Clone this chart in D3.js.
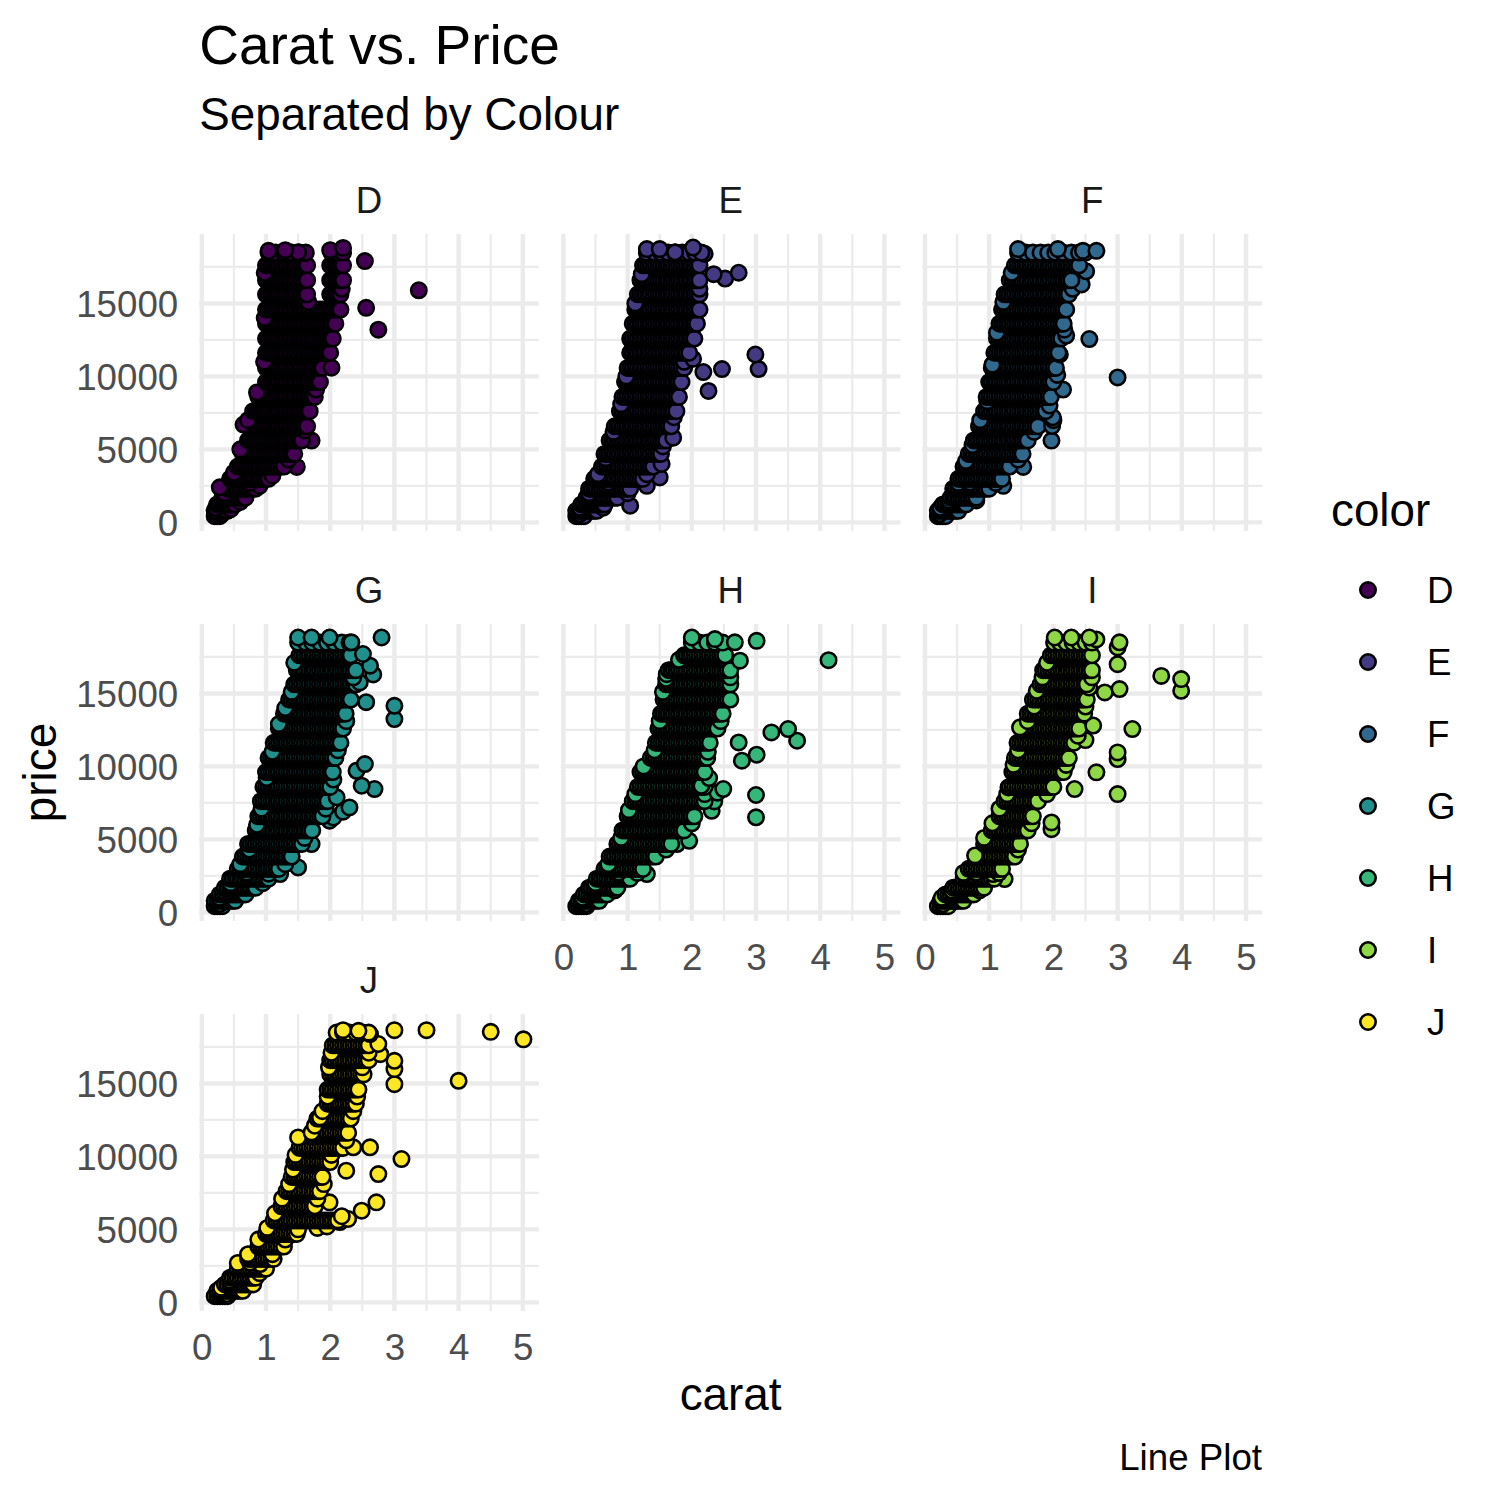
<!DOCTYPE html>
<html><head><meta charset="utf-8">
<script src="https://cdn.jsdelivr.net/npm/d3@7"></script>
<style>body{margin:0;background:#fff;} text{font-family:"Liberation Sans",Arial,Helvetica,sans-serif;}</style>
</head><body><svg id="chart" width="1500" height="1500"></svg>
<script>
// ---------- DATA ----------
const colorLevels = ["D","E","F","G","H","I","J"];
const fillColors = ["#440154","#443A83","#31688E","#21908C","#35B779","#8FD744","#FDE725"];
const xTicks = [0,1,2,3,4,5];
const xMinorTicks = [0.5,1.5,2.5,3.5,4.5];
const yTicks = [0,5000,10000,15000];
const yMinorTicks = [2500,7500,12500,17500];
const chartTitle = "Carat vs. Price";
const chartSubtitle = "Separated by Colour";
const chartCaption = "Line Plot";

// dense cloud: [price, [carats at that price]]
const rowsD = [
[420,[0.2,0.24,0.28]],
[790,[0.2,0.24,0.28,0.32,0.36,0.4]],
[1230,[0.24,0.28,0.32,0.36,0.4,0.44,0.48,0.52]],
[1690,[0.32,0.36,0.4,0.44,0.48,0.52,0.56,0.6,0.64,0.68]],
[2310,[0.4,0.44,0.48,0.52,0.56,0.6,0.64,0.68,0.72,0.76,0.8,0.84]],
[2980,[0.44,0.48,0.52,0.56,0.6,0.64,0.68,0.72,0.76,0.8,0.84,0.88,0.92,0.96,1.0,1.04]],
[3820,[0.56,0.6,0.64,0.68,0.72,0.76,0.8,0.84,0.88,0.92,0.96,1.0,1.04,1.08,1.12,1.16,1.2,1.24,1.28]],
[4690,[0.64,0.68,0.72,0.76,0.8,0.84,0.88,0.92,0.96,1.0,1.04,1.08,1.12,1.16,1.2,1.24,1.28,1.32,1.36,1.4,1.44]],
[5610,[0.72,0.76,0.8,0.84,0.88,0.92,0.96,1.0,1.04,1.08,1.12,1.16,1.2,1.24,1.28,1.32,1.36,1.4,1.44,1.48,1.52,1.56]],
[6580,[0.76,0.8,0.84,0.88,0.92,0.96,1.0,1.04,1.08,1.12,1.16,1.2,1.24,1.28,1.32,1.36,1.4,1.44,1.48,1.52,1.56,1.6,1.64]],
[7620,[0.8,0.84,0.88,0.92,0.96,1.0,1.04,1.08,1.12,1.16,1.2,1.24,1.28,1.32,1.36,1.4,1.44,1.48,1.52,1.56,1.6,1.64,1.68]],
[8590,[0.88,0.92,0.96,1.0,1.04,1.08,1.12,1.16,1.2,1.24,1.28,1.32,1.36,1.4,1.44,1.48,1.52,1.56,1.6,1.64,1.68,1.72,1.76]],
[9610,[1.0,1.04,1.08,1.12,1.16,1.2,1.24,1.28,1.32,1.36,1.4,1.44,1.48,1.52,1.56,1.6,1.64,1.68,1.72,1.76,1.8,1.84]],
[10580,[1.0,1.04,1.08,1.12,1.16,1.2,1.24,1.28,1.32,1.36,1.4,1.44,1.48,1.52,1.56,1.6,1.64,1.68,1.72,1.76,1.8,1.84,1.88]],
[11620,[1.0,1.04,1.08,1.12,1.16,1.2,1.24,1.28,1.32,1.36,1.4,1.44,1.48,1.52,1.56,1.6,1.64,1.68,1.72,1.76,1.8,1.84,1.88,1.92,1.96,2.0]],
[12590,[1.0,1.04,1.08,1.12,1.16,1.2,1.24,1.28,1.32,1.36,1.4,1.44,1.48,1.52,1.56,1.6,1.64,1.68,1.72,1.76,1.8,1.84,1.88,1.92,1.96,2.0,2.04]],
[13610,[1.0,1.04,1.08,1.12,1.16,1.2,1.24,1.28,1.32,1.36,1.4,1.44,1.48,1.52,1.56,1.6,1.64,1.68,1.72,1.76,1.8,1.84,1.88,1.92,1.96,2.0,2.04,2.08]],
[14580,[1.0,1.04,1.08,1.12,1.16,1.2,1.24,1.28,1.32,1.36,1.4,1.44,1.48,1.52,1.56,1.6,1.64,1.68,1.72,1.76,1.8,1.84,1.88,1.92,1.96,2.0,2.04,2.08,2.12,2.16]],
[15620,[1.0,1.04,1.08,1.12,1.16,1.2,1.24,1.28,1.32,1.36,1.4,1.44,1.48,1.52,1.56,1.6,1.64,2.0,2.04,2.08,2.12,2.16]],
[16590,[1.0,1.04,1.08,1.12,1.16,1.2,1.24,1.28,1.32,1.36,1.4,1.44,1.48,1.52,1.56,1.6,1.64,2.0,2.04,2.08,2.12,2.16,2.2]],
[17610,[1.0,1.04,1.08,1.12,1.16,1.2,1.24,1.28,1.32,1.36,1.4,1.44,1.48,1.52,1.56,1.6,1.64,2.0,2.04,2.08,2.12,2.16,2.2]],
[18480,[1.04,1.15,1.28,1.4,1.52,1.62,2.02,2.12,2.2]]
];
// single visible points (edges and outliers): [carat, price]
const edgesD = [[1.04,18600],[1.6,18450],[2.0,18650],[2.2,18800],[1.3,18650],[1.5,18500],[2.54,17900],[3.38,15900],[2.56,14700],[2.75,13200],[2.02,10600],[1.71,5600],[1.48,3800],[0.65,6700],[0.75,2700],[0.31,570],[0.28,2400],
[0.98,17100],[0.98,14000],[0.97,11000],[0.86,8900],[0.72,7000],[0.6,5000],[0.5,3400],[0.36,2000],[0.22,1000],
[1.78,9100],[1.6,6300],[1.35,4300],[1.1,3200],[0.9,2500],[0.6,1400],[0.45,900],[2.18,16000],[1.66,15100]];

const rowsE = [
[420,[0.2,0.24,0.28,0.32]],
[790,[0.2,0.24,0.28,0.32,0.36,0.4,0.44,0.48,0.52]],
[1230,[0.28,0.32,0.36,0.4,0.44,0.48,0.52,0.56,0.6,0.64]],
[1690,[0.36,0.4,0.44,0.48,0.52,0.56,0.6,0.64,0.68,0.72,0.76,0.8,0.84]],
[2310,[0.4,0.44,0.48,0.52,0.56,0.6,0.64,0.68,0.72,0.76,0.8,0.84,0.88,0.92,0.96,1.0,1.04]],
[2980,[0.48,0.52,0.56,0.6,0.64,0.68,0.72,0.76,0.8,0.84,0.88,0.92,0.96,1.0,1.04,1.08,1.12,1.16,1.2,1.24]],
[3820,[0.6,0.64,0.68,0.72,0.76,0.8,0.84,0.88,0.92,0.96,1.0,1.04,1.08,1.12,1.16,1.2,1.24,1.28,1.32,1.36,1.4]],
[4690,[0.64,0.68,0.72,0.76,0.8,0.84,0.88,0.92,0.96,1.0,1.04,1.08,1.12,1.16,1.2,1.24,1.28,1.32,1.36,1.4,1.44,1.48,1.52]],
[5610,[0.72,0.76,0.8,0.84,0.88,0.92,0.96,1.0,1.04,1.08,1.12,1.16,1.2,1.24,1.28,1.32,1.36,1.4,1.44,1.48,1.52,1.56,1.6]],
[6580,[0.8,0.84,0.88,0.92,0.96,1.0,1.04,1.08,1.12,1.16,1.2,1.24,1.28,1.32,1.36,1.4,1.44,1.48,1.52,1.56,1.6,1.64,1.68]],
[7620,[0.88,0.92,0.96,1.0,1.04,1.08,1.12,1.16,1.2,1.24,1.28,1.32,1.36,1.4,1.44,1.48,1.52,1.56,1.6,1.64,1.68,1.72,1.76]],
[8590,[0.92,0.96,1.0,1.04,1.08,1.12,1.16,1.2,1.24,1.28,1.32,1.36,1.4,1.44,1.48,1.52,1.56,1.6,1.64,1.68,1.72,1.76,1.8]],
[9610,[0.96,1.0,1.04,1.08,1.12,1.16,1.2,1.24,1.28,1.32,1.36,1.4,1.44,1.48,1.52,1.56,1.6,1.64,1.68,1.72,1.76,1.8,1.84]],
[10580,[1.0,1.04,1.08,1.12,1.16,1.2,1.24,1.28,1.32,1.36,1.4,1.44,1.48,1.52,1.56,1.6,1.64,1.68,1.72,1.76,1.8,1.84,1.88]],
[11620,[1.04,1.08,1.12,1.16,1.2,1.24,1.28,1.32,1.36,1.4,1.44,1.48,1.52,1.56,1.6,1.64,1.68,1.72,1.76,1.8,1.84,1.88,1.92,1.96]],
[12590,[1.04,1.08,1.12,1.16,1.2,1.24,1.28,1.32,1.36,1.4,1.44,1.48,1.52,1.56,1.6,1.64,1.68,1.72,1.76,1.8,1.84,1.88,1.92,1.96,2.0,2.04]],
[13610,[1.08,1.12,1.16,1.2,1.24,1.28,1.32,1.36,1.4,1.44,1.48,1.52,1.56,1.6,1.64,1.68,1.72,1.76,1.8,1.84,1.88,1.92,1.96,2.0,2.04,2.08]],
[14580,[1.12,1.16,1.2,1.24,1.28,1.32,1.36,1.4,1.44,1.48,1.52,1.56,1.6,1.64,1.68,1.72,1.76,1.8,1.84,1.88,1.92,1.96,2.0,2.04,2.08,2.12]],
[15620,[1.16,1.2,1.24,1.28,1.32,1.36,1.4,1.44,1.48,1.52,1.56,1.6,1.64,1.68,1.72,1.76,1.8,1.84,1.88,1.92,1.96,2.0,2.04,2.08,2.12]],
[16590,[1.2,1.24,1.28,1.32,1.36,1.4,1.44,1.48,1.52,1.56,1.6,1.64,1.68,1.72,1.76,1.8,1.84,1.88,1.92,1.96,2.0,2.04,2.08,2.12]],
[17610,[1.24,1.28,1.32,1.36,1.4,1.44,1.48,1.52,1.56,1.6,1.64,1.68,1.72,1.76,1.8,1.84,1.88,1.92,1.96,2.0,2.04,2.08,2.12]],
[18480,[1.3,1.42,1.52,1.63,1.74,1.85,1.96,2.05,2.15]]
];
const edgesE = [[1.3,18720],[1.5,18720],[1.74,18500],[2.02,18830],[2.2,18400],[2.34,17000],[2.52,16700],[2.73,17100],[2.99,11500],[3.04,10500],[2.47,10500],[2.18,10300],[2.26,9000],[2.02,11200],[1.71,5800],[1.53,4000],[1.5,3080],[1.3,2500],[1.04,1140],[0.7,2740],[0.25,570],
[1.22,17000],[1.12,15000],[1.05,12500],[0.98,10000],[0.9,8100],[0.78,6200],[0.66,4400],[0.54,3300],[0.4,2000],[0.26,1000],
[2.12,16000],[1.88,11000],[1.72,7200],[1.55,5200],[1.3,3300],[1.0,2000],[0.62,1000]];

const rowsF = [
[420,[0.2,0.24,0.28,0.32]],
[790,[0.2,0.24,0.28,0.32,0.36,0.4,0.44,0.48,0.52]],
[1230,[0.28,0.32,0.36,0.4,0.44,0.48,0.52,0.56,0.6,0.64]],
[1690,[0.4,0.44,0.48,0.52,0.56,0.6,0.64,0.68,0.72,0.76,0.8]],
[2310,[0.44,0.48,0.52,0.56,0.6,0.64,0.68,0.72,0.76,0.8,0.84,0.88,0.92,0.96,1.0]],
[2980,[0.52,0.56,0.6,0.64,0.68,0.72,0.76,0.8,0.84,0.88,0.92,0.96,1.0,1.04,1.08,1.12,1.16,1.2]],
[3820,[0.6,0.64,0.68,0.72,0.76,0.8,0.84,0.88,0.92,0.96,1.0,1.04,1.08,1.12,1.16,1.2,1.24,1.28,1.32]],
[4690,[0.68,0.72,0.76,0.8,0.84,0.88,0.92,0.96,1.0,1.04,1.08,1.12,1.16,1.2,1.24,1.28,1.32,1.36,1.4,1.44,1.48,1.52]],
[5610,[0.76,0.8,0.84,0.88,0.92,0.96,1.0,1.04,1.08,1.12,1.16,1.2,1.24,1.28,1.32,1.36,1.4,1.44,1.48,1.52,1.56,1.6]],
[6580,[0.84,0.88,0.92,0.96,1.0,1.04,1.08,1.12,1.16,1.2,1.24,1.28,1.32,1.36,1.4,1.44,1.48,1.52,1.56,1.6,1.64,1.68,1.72,1.76]],
[7620,[0.92,0.96,1.0,1.04,1.08,1.12,1.16,1.2,1.24,1.28,1.32,1.36,1.4,1.44,1.48,1.52,1.56,1.6,1.64,1.68,1.72,1.76,1.8,1.84,1.88]],
[8590,[0.96,1.0,1.04,1.08,1.12,1.16,1.2,1.24,1.28,1.32,1.36,1.4,1.44,1.48,1.52,1.56,1.6,1.64,1.68,1.72,1.76,1.8,1.84,1.88,1.92,1.96]],
[9610,[1.0,1.04,1.08,1.12,1.16,1.2,1.24,1.28,1.32,1.36,1.4,1.44,1.48,1.52,1.56,1.6,1.64,1.68,1.72,1.76,1.8,1.84,1.88,1.92,1.96,2.0]],
[10580,[1.04,1.08,1.12,1.16,1.2,1.24,1.28,1.32,1.36,1.4,1.44,1.48,1.52,1.56,1.6,1.64,1.68,1.72,1.76,1.8,1.84,1.88,1.92,1.96,2.0,2.04]],
[11620,[1.08,1.12,1.16,1.2,1.24,1.28,1.32,1.36,1.4,1.44,1.48,1.52,1.56,1.6,1.64,1.68,1.72,1.76,1.8,1.84,1.88,1.92,1.96,2.0,2.04,2.08]],
[12600,[1.12,1.16,1.2,1.24,1.28,1.32,1.36,1.4,1.44,1.48,1.52,1.56,1.6,1.64,1.68,1.72,1.76,1.8,1.84,1.88,1.92,1.96,2.0,2.04,2.08,2.12]],
[13610,[1.16,1.2,1.24,1.28,1.32,1.36,1.4,1.44,1.48,1.52,1.56,1.6,1.64,1.68,1.72,1.76,1.8,1.84,1.88,1.92,1.96,2.0,2.04,2.08,2.12,2.16]],
[14580,[1.2,1.24,1.28,1.32,1.36,1.4,1.44,1.48,1.52,1.56,1.6,1.64,1.68,1.72,1.76,1.8,1.84,1.88,1.92,1.96,2.0,2.04,2.08,2.12,2.16,2.2]],
[15620,[1.24,1.28,1.32,1.36,1.4,1.44,1.48,1.52,1.56,1.6,1.64,1.68,1.72,1.76,1.8,1.84,1.88,1.92,1.96,2.0,2.04,2.08,2.12,2.16,2.2,2.24]],
[16590,[1.32,1.36,1.4,1.44,1.48,1.52,1.56,1.6,1.64,1.68,1.72,1.76,1.8,1.84,1.88,1.92,1.96,2.0,2.04,2.08,2.12,2.16,2.2,2.24,2.28]],
[17610,[1.4,1.44,1.48,1.52,1.56,1.6,1.64,1.68,1.72,1.76,1.8,1.84,1.88,1.92,1.96,2.0,2.04,2.08,2.12,2.16,2.2,2.24,2.28,2.32,2.36,2.4]],
[18480,[1.45,1.57,1.68,1.8,1.92,2.03,2.15,2.28,2.4,2.5]]
];
const edgesF = [[1.45,18720],[2.07,18720],[2.46,18600],[2.67,18600],[2.51,17200],[2.44,16300],[2.56,12560],[3.0,9930],[2.15,9100],[1.99,7200],[2.0,7000],[1.98,6600],[1.97,5600],[1.53,3800],[1.22,2500],[0.7,2740],[0.23,570],[2.1,11500],[2.2,12800],
[1.35,17100],[1.22,15100],[1.12,13000],[1.05,10800],[0.97,8300],[0.86,7000],[0.74,5300],[0.64,4200],[0.52,2700],[0.38,1500],[0.24,1000],
[2.3,16000],[2.17,13200],[2.06,10100],[1.94,8000],[1.7,6200],[1.45,4300],[1.1,2700],[0.8,1500]];

const rowsG = [
[420,[0.2,0.24,0.28,0.32]],
[790,[0.2,0.24,0.28,0.32,0.36,0.4,0.44,0.48,0.52]],
[1230,[0.28,0.32,0.36,0.4,0.44,0.48,0.52,0.56,0.6,0.64,0.68]],
[1690,[0.36,0.4,0.44,0.48,0.52,0.56,0.6,0.64,0.68,0.72,0.76,0.8,0.84]],
[2310,[0.44,0.48,0.52,0.56,0.6,0.64,0.68,0.72,0.76,0.8,0.84,0.88,0.92,0.96,1.0,1.04]],
[2980,[0.56,0.6,0.64,0.68,0.72,0.76,0.8,0.84,0.88,0.92,0.96,1.0,1.04,1.08,1.12,1.16,1.2]],
[3820,[0.64,0.68,0.72,0.76,0.8,0.84,0.88,0.92,0.96,1.0,1.04,1.08,1.12,1.16,1.2,1.24,1.28,1.32,1.36,1.4]],
[4690,[0.72,0.76,0.8,0.84,0.88,0.92,0.96,1.0,1.04,1.08,1.12,1.16,1.2,1.24,1.28,1.32,1.36,1.4,1.44,1.48,1.52,1.56]],
[5610,[0.84,0.88,0.92,0.96,1.0,1.04,1.08,1.12,1.16,1.2,1.24,1.28,1.32,1.36,1.4,1.44,1.48,1.52,1.56,1.6,1.64,1.68,1.72]],
[6580,[0.88,0.92,0.96,1.0,1.04,1.08,1.12,1.16,1.2,1.24,1.28,1.32,1.36,1.4,1.44,1.48,1.52,1.56,1.6,1.64,1.68,1.72,1.76,1.8,1.84,1.88]],
[7620,[0.92,0.96,1.0,1.04,1.08,1.12,1.16,1.2,1.24,1.28,1.32,1.36,1.4,1.44,1.48,1.52,1.56,1.6,1.64,1.68,1.72,1.76,1.8,1.84,1.88,1.92,1.96]],
[8590,[0.96,1.0,1.04,1.08,1.12,1.16,1.2,1.24,1.28,1.32,1.36,1.4,1.44,1.48,1.52,1.56,1.6,1.64,1.68,1.72,1.76,1.8,1.84,1.88,1.92,1.96,2.0]],
[9610,[1.0,1.04,1.08,1.12,1.16,1.2,1.24,1.28,1.32,1.36,1.4,1.44,1.48,1.52,1.56,1.6,1.64,1.68,1.72,1.76,1.8,1.84,1.88,1.92,1.96,2.0,2.04]],
[10580,[1.04,1.08,1.12,1.16,1.2,1.24,1.28,1.32,1.36,1.4,1.44,1.48,1.52,1.56,1.6,1.64,1.68,1.72,1.76,1.8,1.84,1.88,1.92,1.96,2.0,2.04,2.08]],
[11620,[1.12,1.16,1.2,1.24,1.28,1.32,1.36,1.4,1.44,1.48,1.52,1.56,1.6,1.64,1.68,1.72,1.76,1.8,1.84,1.88,1.92,1.96,2.0,2.04,2.08,2.12,2.16]],
[12590,[1.2,1.24,1.28,1.32,1.36,1.4,1.44,1.48,1.52,1.56,1.6,1.64,1.68,1.72,1.76,1.8,1.84,1.88,1.92,1.96,2.0,2.04,2.08,2.12,2.16,2.2]],
[13610,[1.28,1.32,1.36,1.4,1.44,1.48,1.52,1.56,1.6,1.64,1.68,1.72,1.76,1.8,1.84,1.88,1.92,1.96,2.0,2.04,2.08,2.12,2.16,2.2,2.24]],
[14580,[1.36,1.4,1.44,1.48,1.52,1.56,1.6,1.64,1.68,1.72,1.76,1.8,1.84,1.88,1.92,1.96,2.0,2.04,2.08,2.12,2.16,2.2,2.24,2.28,2.32]],
[15620,[1.44,1.48,1.52,1.56,1.6,1.64,1.68,1.72,1.76,1.8,1.84,1.88,1.92,1.96,2.0,2.04,2.08,2.12,2.16,2.2,2.24,2.28,2.32,2.36,2.4]],
[16590,[1.48,1.52,1.56,1.6,1.64,1.68,1.72,1.76,1.8,1.84,1.88,1.92,1.96,2.0,2.04,2.08,2.12,2.16,2.2,2.24,2.28,2.32,2.36,2.4]],
[17610,[1.52,1.56,1.6,1.64,1.68,1.72,1.76,1.8,1.84,1.88,1.92,1.96,2.0,2.04,2.08,2.12,2.16,2.2,2.24,2.28,2.32]],
[18480,[1.5,1.62,1.72,1.84,1.95,2.06,2.18,2.3]]
];
const edgesG = [[1.5,18830],[1.71,18830],[1.99,18830],[2.33,18500],[2.8,18830],[2.51,17700],[2.62,16900],[2.67,16300],[2.46,15750],[2.56,14400],[3.0,14150],[3.0,13240],[2.54,10160],[2.41,9700],[2.49,8675],[2.69,8450],[2.1,7880],[1.99,6280],[2.3,7190],[2.2,6900],[2.05,6500],[1.71,4680],[1.5,3080],[1.22,2625],[1.04,2650],[0.7,2740],[0.28,570],
[1.44,17100],[1.4,15100],[1.3,14000],[1.2,12900],[1.1,11000],[1.01,9200],[0.93,7100],[0.86,6000],[0.74,4300],[0.6,3300],[0.45,2000],[0.28,1000],
[2.36,16100],[2.25,13100],[2.12,11100],[2.05,9100],[1.93,7100],[1.6,5100],[1.3,3300],[0.95,2000]];

const rowsH = [
[420,[0.2,0.24,0.28,0.32,0.36]],
[790,[0.24,0.28,0.32,0.36,0.4,0.44,0.48,0.52,0.56]],
[1230,[0.32,0.36,0.4,0.44,0.48,0.52,0.56,0.6,0.64,0.68]],
[1690,[0.4,0.44,0.48,0.52,0.56,0.6,0.64,0.68,0.72,0.76,0.8,0.84]],
[2310,[0.52,0.56,0.6,0.64,0.68,0.72,0.76,0.8,0.84,0.88,0.92,0.96,1.0,1.04]],
[2980,[0.64,0.68,0.72,0.76,0.8,0.84,0.88,0.92,0.96,1.0,1.04,1.08,1.12,1.16,1.2,1.24]],
[3820,[0.72,0.76,0.8,0.84,0.88,0.92,0.96,1.0,1.04,1.08,1.12,1.16,1.2,1.24,1.28,1.32,1.36,1.4,1.44]],
[4690,[0.84,0.88,0.92,0.96,1.0,1.04,1.08,1.12,1.16,1.2,1.24,1.28,1.32,1.36,1.4,1.44,1.48,1.52,1.56,1.6,1.64,1.68]],
[5610,[0.92,0.96,1.0,1.04,1.08,1.12,1.16,1.2,1.24,1.28,1.32,1.36,1.4,1.44,1.48,1.52,1.56,1.6,1.64,1.68,1.72,1.76,1.8,1.84,1.88]],
[6580,[1.0,1.04,1.08,1.12,1.16,1.2,1.24,1.28,1.32,1.36,1.4,1.44,1.48,1.52,1.56,1.6,1.64,1.68,1.72,1.76,1.8,1.84,1.88,1.92,1.96,2.0,2.04]],
[7620,[1.08,1.12,1.16,1.2,1.24,1.28,1.32,1.36,1.4,1.44,1.48,1.52,1.56,1.6,1.64,1.68,1.72,1.76,1.8,1.84,1.88,1.92,1.96,2.0,2.04,2.08,2.12,2.16,2.2]],
[8590,[1.16,1.2,1.24,1.28,1.32,1.36,1.4,1.44,1.48,1.52,1.56,1.6,1.64,1.68,1.72,1.76,1.8,1.84,1.88,1.92,1.96,2.0,2.04,2.08,2.12,2.16,2.2]],
[9610,[1.2,1.24,1.28,1.32,1.36,1.4,1.44,1.48,1.52,1.56,1.6,1.64,1.68,1.72,1.76,1.8,1.84,1.88,1.92,1.96,2.0,2.04,2.08,2.12,2.16,2.2]],
[10580,[1.36,1.4,1.44,1.48,1.52,1.56,1.6,1.64,1.68,1.72,1.76,1.8,1.84,1.88,1.92,1.96,2.0,2.04,2.08,2.12,2.16,2.2,2.24]],
[11620,[1.44,1.48,1.52,1.56,1.6,1.64,1.68,1.72,1.76,1.8,1.84,1.88,1.92,1.96,2.0,2.04,2.08,2.12,2.16,2.2,2.24,2.28]],
[12590,[1.48,1.52,1.56,1.6,1.64,1.68,1.72,1.76,1.8,1.84,1.88,1.92,1.96,2.0,2.04,2.08,2.12,2.16,2.2,2.24,2.28,2.32,2.36,2.4]],
[13610,[1.52,1.56,1.6,1.64,1.68,1.72,1.76,1.8,1.84,1.88,1.92,1.96,2.0,2.04,2.08,2.12,2.16,2.2,2.24,2.28,2.32,2.36,2.4,2.44,2.48]],
[14580,[1.56,1.6,1.64,1.68,1.72,1.76,1.8,1.84,1.88,1.92,1.96,2.0,2.04,2.08,2.12,2.16,2.2,2.24,2.28,2.32,2.36,2.4,2.44,2.48,2.52,2.56,2.6]],
[15620,[1.6,1.64,1.68,1.72,1.76,1.8,1.84,1.88,1.92,1.96,2.0,2.04,2.08,2.12,2.16,2.2,2.24,2.28,2.32,2.36,2.4,2.44,2.48,2.52,2.56,2.6]],
[16590,[1.64,1.68,1.72,1.76,1.8,1.84,1.88,1.92,1.96,2.0,2.04,2.08,2.12,2.16,2.2,2.24,2.28,2.32,2.36,2.4,2.44,2.48,2.52,2.56,2.6]],
[17610,[1.88,1.92,1.96,2.0,2.04,2.08,2.12,2.16,2.2,2.24,2.28,2.32,2.36,2.4,2.44,2.48,2.52]],
[18480,[2.0,2.12,2.24,2.36,2.48]]
];
const edgesH = [[2.0,18830],[2.36,18720],[2.67,18500],[3.01,18600],[4.13,17280],[2.75,17240],[1.61,16320],[3.24,12330],[3.5,12560],[3.64,11760],[2.73,11640],[2.78,10390],[3.01,10800],[2.49,8450],[2.15,8675],[2.31,6960],[2.27,9200],[3.0,8040],[3.0,6510],[1.96,4900],[1.77,4680],[1.3,2625],[0.86,2740],[0.36,570],[2.4,8200],[2.35,7600],
[1.8,17300],[1.6,16000],[1.55,15100],[1.5,13100],[1.42,11100],[1.25,10000],[1.12,8100],[1.02,7000],[0.9,5100],[0.7,3300],[0.5,2000],[0.3,1000],
[2.6,16100],[2.45,13100],[2.25,11000],[2.2,8100],[2.0,6100],[1.6,4300],[1.15,2700],[0.8,1500]];

const rowsI = [
[420,[0.2,0.24,0.28,0.32,0.36]],
[790,[0.24,0.28,0.32,0.36,0.4,0.44,0.48,0.52,0.56,0.6]],
[1230,[0.32,0.36,0.4,0.44,0.48,0.52,0.56,0.6,0.64,0.68,0.72,0.76]],
[1690,[0.44,0.48,0.52,0.56,0.6,0.64,0.68,0.72,0.76,0.8,0.84,0.88,0.92]],
[2310,[0.6,0.64,0.68,0.72,0.76,0.8,0.84,0.88,0.92,0.96,1.0,1.04,1.08]],
[2980,[0.68,0.72,0.76,0.8,0.84,0.88,0.92,0.96,1.0,1.04,1.08,1.12,1.16,1.2]],
[3820,[0.8,0.84,0.88,0.92,0.96,1.0,1.04,1.08,1.12,1.16,1.2,1.24,1.28,1.32,1.36,1.4]],
[4690,[0.92,0.96,1.0,1.04,1.08,1.12,1.16,1.2,1.24,1.28,1.32,1.36,1.4,1.44,1.48]],
[5610,[1.04,1.08,1.12,1.16,1.2,1.24,1.28,1.32,1.36,1.4,1.44,1.48,1.52,1.56,1.6]],
[6580,[1.16,1.2,1.24,1.28,1.32,1.36,1.4,1.44,1.48,1.52,1.56,1.6,1.64,1.68]],
[7620,[1.24,1.28,1.32,1.36,1.4,1.44,1.48,1.52,1.56,1.6,1.64,1.68,1.72,1.76]],
[8590,[1.32,1.36,1.4,1.44,1.48,1.52,1.56,1.6,1.64,1.68,1.72,1.76,1.8,1.84,1.88,1.92,1.96,2.0]],
[9610,[1.36,1.4,1.44,1.48,1.52,1.56,1.6,1.64,1.68,1.72,1.76,1.8,1.84,1.88,1.92,1.96,2.0,2.04,2.08,2.12,2.16]],
[10580,[1.4,1.44,1.48,1.52,1.56,1.6,1.64,1.68,1.72,1.76,1.8,1.84,1.88,1.92,1.96,2.0,2.04,2.08,2.12,2.16,2.2,2.24]],
[11620,[1.44,1.48,1.52,1.56,1.6,1.64,1.68,1.72,1.76,1.8,1.84,1.88,1.92,1.96,2.0,2.04,2.08,2.12,2.16,2.2,2.24,2.28,2.32]],
[12590,[1.52,1.56,1.6,1.64,1.68,1.72,1.76,1.8,1.84,1.88,1.92,1.96,2.0,2.04,2.08,2.12,2.16,2.2,2.24,2.28,2.32,2.36,2.4]],
[13610,[1.6,1.64,1.68,1.72,1.76,1.8,1.84,1.88,1.92,1.96,2.0,2.04,2.08,2.12,2.16,2.2,2.24,2.28,2.32,2.36,2.4,2.44,2.48]],
[14580,[1.68,1.72,1.76,1.8,1.84,1.88,1.92,1.96,2.0,2.04,2.08,2.12,2.16,2.2,2.24,2.28,2.32,2.36,2.4,2.44,2.48,2.52]],
[15620,[1.8,1.84,1.88,1.92,1.96,2.0,2.04,2.08,2.12,2.16,2.2,2.24,2.28,2.32,2.36,2.4,2.44,2.48,2.52]],
[16590,[1.84,1.88,1.92,1.96,2.0,2.04,2.08,2.12,2.16,2.2,2.24,2.28,2.32,2.36,2.4,2.44,2.48,2.52,2.56,2.6]],
[17610,[1.96,2.0,2.04,2.08,2.12,2.16,2.2,2.24,2.28,2.32,2.36,2.4,2.44,2.48,2.52,2.56,2.6]],
[18480,[2.01,2.1,2.2,2.3,2.4,2.5,2.6]]
];
const edgesI = [[2.02,18830],[2.28,18830],[2.56,18830],[2.67,18700],[3.03,18500],[3.0,18150],[3.0,17000],[3.03,15300],[2.8,15070],[2.56,15400],[3.68,16200],[3.99,15980],[3.99,15180],[3.23,12560],[3.0,10960],[3.0,10500],[2.67,9590],[2.33,8450],[3.0,8100],[1.97,6160],[1.97,5700],[1.74,15180],[1.48,12670],[1.3,8560],[1.24,2280],[1.06,2625],[0.8,2740],[0.28,570],[2.5,11800],[2.62,12800],
[1.9,17100],[1.83,16100],[1.7,14100],[1.6,13100],[1.45,11100],[1.38,10100],[1.28,8100],[1.16,7100],[1.05,6100],[0.92,5100],[0.78,3900],[0.6,2700],[0.42,1500],[0.26,1000],
[2.6,16100],[2.5,14100],[2.38,12100],[2.2,10100],[1.9,8100],[1.66,6100],[1.45,4300],[1.15,2700],[0.85,1500]];

const rowsJ = [
[420,[0.2,0.24,0.28,0.32,0.36,0.4]],
[790,[0.24,0.28,0.32,0.36,0.4,0.44,0.48,0.52,0.56,0.6,0.64]],
[1230,[0.36,0.4,0.44,0.48,0.52,0.56,0.6,0.64,0.68,0.72,0.76,0.8]],
[1690,[0.44,0.48,0.52,0.56,0.6,0.64,0.68,0.72,0.76,0.8,0.84]],
[2310,[0.56,0.6,0.64,0.68,0.72,0.76,0.8,0.84,0.88,0.92,0.96,1.0]],
[2980,[0.72,0.76,0.8,0.84,0.88,0.92,0.96,1.0,1.04,1.08,1.12]],
[3820,[0.88,0.92,0.96,1.0,1.04,1.08,1.12,1.16,1.2,1.24,1.28]],
[4690,[1.0,1.04,1.08,1.12,1.16,1.2,1.24,1.28,1.32,1.36,1.4,1.44,1.48]],
[5610,[1.12,1.16,1.2,1.24,1.28,1.32,1.36,1.4,1.44,1.48,1.52,1.56,1.6,1.64,1.68,1.72,1.76,1.8,1.84,1.88,1.92,1.96,2.0,2.04,2.08,2.12]],
[6580,[1.24,1.28,1.32,1.36,1.4,1.44,1.48,1.52,1.56,1.6,1.64,1.68,1.72,1.76]],
[7620,[1.32,1.36,1.4,1.44,1.48,1.52,1.56,1.6,1.64,1.68,1.72,1.76,1.8,1.84]],
[8590,[1.4,1.44,1.48,1.52,1.56,1.6,1.64,1.68,1.72,1.76,1.8,1.84,1.88]],
[9610,[1.44,1.48,1.52,1.56,1.6,1.64,1.68,1.72,1.76,1.8,1.84,1.88,1.92,1.96,2.0]],
[10580,[1.52,1.56,1.6,1.64,1.68,1.72,1.76,1.8,1.84,1.88,1.92,1.96,2.0,2.04,2.08,2.12,2.16,2.2]],
[11620,[1.72,1.76,1.8,1.84,1.88,1.92,1.96,2.0,2.04,2.08,2.12,2.16,2.2,2.24,2.28]],
[12590,[1.8,1.84,1.88,1.92,1.96,2.0,2.04,2.08,2.12,2.16,2.2,2.24,2.28,2.32]],
[13610,[1.96,2.0,2.04,2.08,2.12,2.16,2.2,2.24,2.28,2.32,2.36,2.4]],
[14580,[1.96,2.0,2.04,2.08,2.12,2.16,2.2,2.24,2.28,2.32,2.36,2.4,2.44]],
[15620,[2.0,2.04,2.08,2.12,2.16,2.2,2.24,2.28,2.32,2.36,2.4,2.44,2.48,2.52]],
[16590,[2.0,2.04,2.08,2.12,2.16,2.2,2.24,2.28,2.32,2.36,2.4,2.44,2.48,2.52,2.56,2.6]],
[17610,[2.04,2.08,2.12,2.16,2.2,2.24,2.28,2.32,2.36,2.4,2.44,2.48,2.52,2.56,2.6]],
[18480,[2.1,2.2,2.3,2.4,2.5,2.6]]
];
const edgesJ = [[2.2,18650],[2.44,18600],[2.62,18380],[2.75,17700],[2.78,17000],[3.0,18650],[3.5,18650],[4.5,18531],[5.01,18018],[3.0,16550],[3.0,15980],[3.0,14950],[4.0,15180],[2.62,10620],[2.36,10620],[3.11,9820],[2.75,8790],[2.25,9020],[2.72,6850],[2.49,6280],[2.28,5710],[1.99,6850],[2.15,5500],[1.95,5200],[1.8,5100],[1.5,11300],[1.71,11640],[1.84,12670],[0.91,2625],[0.39,570],[0.75,2740],
[2.02,17100],[1.98,16100],[1.96,14100],[1.88,13100],[1.76,12100],[1.46,10100],[1.42,9100],[1.36,8100],[1.25,7100],[1.14,6100],[1.02,5100],[0.88,4300],[0.72,3300],[0.56,2700],[0.44,1500],[0.3,1000],
[2.6,17100],[2.5,16100],[2.42,14100],[2.36,13100],[2.25,11100],[2.02,10100],[1.9,8100],[1.8,7100],[2.18,5900],[1.5,5000],[1.3,4300],[1.1,3300],[0.9,2000]];

// ---------- BUILD ----------
const facetTable = [
  {level:"D", rows:rowsD, edges:edgesD},
  {level:"E", rows:rowsE, edges:edgesE},
  {level:"F", rows:rowsF, edges:edgesF},
  {level:"G", rows:rowsG, edges:edgesG},
  {level:"H", rows:rowsH, edges:edgesH},
  {level:"I", rows:rowsI, edges:edgesI},
  {level:"J", rows:rowsJ, edges:edgesJ}
].map(f => {
  const pts = [];
  f.rows.forEach(([p, carats]) => carats.forEach(c => pts.push([c, p])));
  f.edges.forEach(d => pts.push(d));
  pts.sort((a, b) => a[1] - b[1]);   // drawn in price order, like the source data
  return {level: f.level, points: pts};
});

const allPts = facetTable.flatMap(f => f.points);
const cExt = d3.extent(allPts, d => d[0]);
const pExt = [326, d3.max(allPts, d => d[1])];
const cPad = (cExt[1] - cExt[0]) * 0.05, pPad = (pExt[1] - pExt[0]) * 0.05;

const panelW = 339.7, panelH = 297.1;
const colX = [199.2, 560.8, 922.4];
const rowY = [234, 624, 1014];
const ptR = 7.7, ptStroke = 2.6;

const x = d3.scaleLinear().domain([cExt[0] - cPad, cExt[1] + cPad]).range([0, panelW]);
const y = d3.scaleLinear().domain([pExt[0] - pPad, pExt[1] + pPad]).range([panelH, 0]);
const fillScale = d3.scaleOrdinal().domain(colorLevels).range(fillColors);

const svg = d3.select("#chart");
svg.append("rect").attr("width", 1500).attr("height", 1500).attr("fill", "#fff");

const gridCol = "#EBEBEB";
const tickFont = 36.7, bigFont = 45.8;

facetTable.forEach((f, i) => {
  const r = Math.floor(i / 3), c = i % 3;
  const g = svg.append("g").attr("transform", `translate(${colX[c]},${rowY[r]})`);
  g.selectAll(".vmin").data(xMinorTicks).join("line").attr("class","vmin")
    .attr("x1", d => x(d)).attr("x2", d => x(d)).attr("y1", 0).attr("y2", panelH)
    .attr("stroke", gridCol).attr("stroke-width", 2.22);
  g.selectAll(".hmin").data(yMinorTicks).join("line").attr("class","hmin")
    .attr("y1", d => y(d)).attr("y2", d => y(d)).attr("x1", 0).attr("x2", panelW)
    .attr("stroke", gridCol).attr("stroke-width", 2.22);
  g.selectAll(".vmaj").data(xTicks).join("line").attr("class","vmaj")
    .attr("x1", d => x(d)).attr("x2", d => x(d)).attr("y1", 0).attr("y2", panelH)
    .attr("stroke", gridCol).attr("stroke-width", 4.44);
  g.selectAll(".hmaj").data(yTicks).join("line").attr("class","hmaj")
    .attr("y1", d => y(d)).attr("y2", d => y(d)).attr("x1", 0).attr("x2", panelW)
    .attr("stroke", gridCol).attr("stroke-width", 4.44);

  const clipId = "clip" + i;
  g.append("clipPath").attr("id", clipId).append("rect").attr("width", panelW).attr("height", panelH);
  g.append("g").attr("clip-path", `url(#${clipId})`)
    .selectAll("circle").data(f.points).join("circle")
    .attr("cx", d => x(d[0])).attr("cy", d => y(d[1])).attr("r", ptR)
    .attr("fill", fillScale(f.level)).attr("stroke", "#000").attr("stroke-width", ptStroke);

  g.append("text").attr("x", panelW / 2).attr("y", -21.5).attr("text-anchor", "middle")
    .attr("font-size", tickFont).attr("fill", "#1A1A1A").text(f.level);

  if (c === 0) {
    const ax = g.append("g").call(d3.axisLeft(y).tickValues(yTicks).tickSize(0).tickPadding(21).tickFormat(d3.format("d")));
    ax.select(".domain").remove();
    ax.selectAll("text").attr("font-size", tickFont).attr("fill", "#4D4D4D").attr("dy", "0.36em")
      .attr("font-family", '"Liberation Sans",Arial,sans-serif');
  }
  if (i === 4 || i === 5 || i === 6) {
    const ax = g.append("g").attr("transform", `translate(0,${panelH})`)
      .call(d3.axisBottom(x).tickValues(xTicks).tickSize(0).tickPadding(23).tickFormat(d3.format("d")));
    ax.select(".domain").remove();
    ax.selectAll("text").attr("font-size", tickFont).attr("fill", "#4D4D4D")
      .attr("font-family", '"Liberation Sans",Arial,sans-serif');
  }
});

svg.append("text").attr("x", 199.2).attr("y", 64).attr("font-size", 55).attr("fill", "#000").text(chartTitle);
svg.append("text").attr("x", 199.2).attr("y", 130).attr("font-size", bigFont).attr("fill", "#000").text(chartSubtitle);
svg.append("text").attr("x", 730.6).attr("y", 1410).attr("text-anchor", "middle").attr("font-size", bigFont).attr("fill", "#000").text("carat");
svg.append("text").attr("transform", "translate(56,772.5) rotate(-90)").attr("text-anchor", "middle").attr("font-size", bigFont).attr("fill", "#000").text("price");
svg.append("text").attr("x", 1262).attr("y", 1470).attr("text-anchor", "end").attr("font-size", tickFont).attr("fill", "#000").text(chartCaption);

const leg = svg.append("g");
leg.append("text").attr("x", 1331).attr("y", 526).attr("font-size", bigFont).attr("fill", "#000").text("color");
const items = leg.selectAll(".item").data(colorLevels).join("g").attr("class", "item")
  .attr("transform", (d, k) => `translate(0,${590 + 72 * k})`);
items.append("circle").attr("cx", 1368).attr("cy", 0).attr("r", ptR)
  .attr("fill", d => fillScale(d)).attr("stroke", "#000").attr("stroke-width", ptStroke);
items.append("text").attr("x", 1427).attr("y", 13).attr("font-size", tickFont).attr("fill", "#000").text(d => d);
</script>
</body></html>
